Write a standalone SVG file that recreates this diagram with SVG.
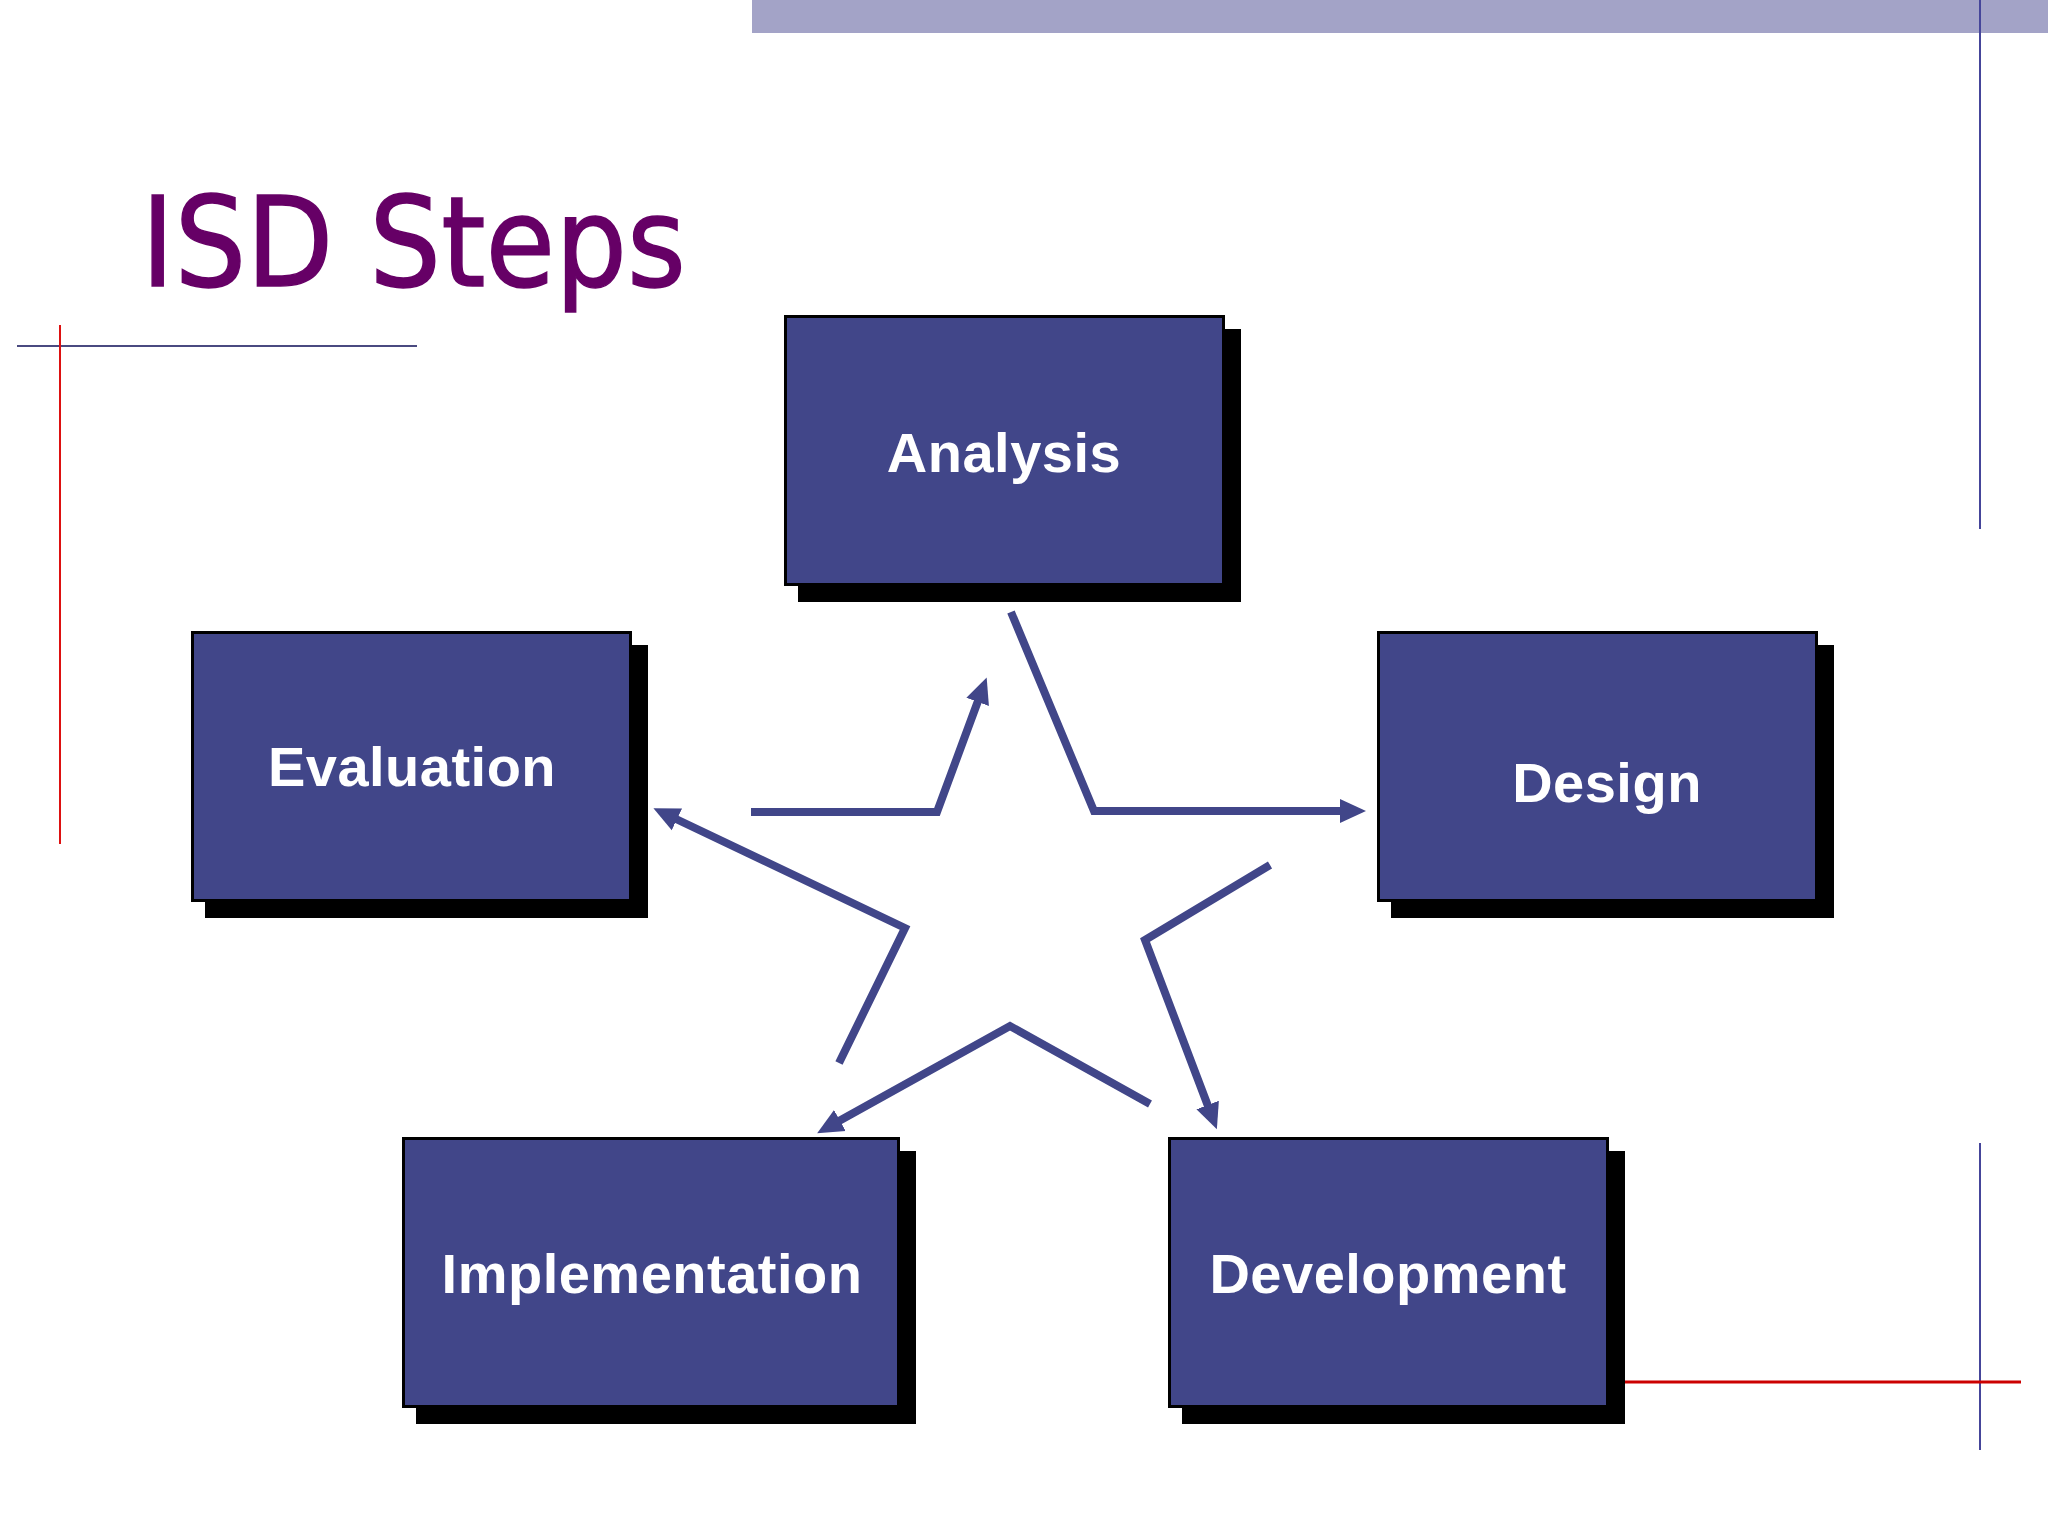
<svg xmlns="http://www.w3.org/2000/svg" width="2048" height="1536" viewBox="0 0 2048 1536">
<style>
.box{fill:#414689;stroke:#000;stroke-width:3}
.shadow{fill:#000}
.lbl{font-family:"Liberation Sans",Arial,sans-serif;font-weight:bold;font-size:56px;fill:#fff;text-anchor:middle;letter-spacing:0.5px}
.conn{fill:none;stroke:#414689;stroke-width:8;stroke-linejoin:miter}
</style>
<defs>
<marker id="ah" markerUnits="userSpaceOnUse" markerWidth="30" markerHeight="28" viewBox="0 -14 30 28" refX="1" refY="0" orient="auto">
<path d="M0,-12 L26,0 L0,12 z" fill="#414689"/>
</marker>
</defs>
<rect width="2048" height="1536" fill="#fff"/>
<g id="decor">
<rect x="752" y="0" width="1296" height="33" fill="#a3a3c7"/>
<line x1="1980" y1="0" x2="1980" y2="529" stroke="#45459a" stroke-width="2"/>
<line x1="1980" y1="1143" x2="1980" y2="1450" stroke="#45459a" stroke-width="2"/>
<line x1="1624" y1="1382" x2="2021" y2="1382" stroke="#cc0000" stroke-width="3"/>
<line x1="17" y1="346" x2="417" y2="346" stroke="#4a4a80" stroke-width="2"/>
<line x1="60" y1="325" x2="60" y2="844" stroke="#dd1111" stroke-width="2"/>
</g>
<text id="title" x="141" y="286" font-family="'DejaVu Sans','DejaVu Sans Condensed',sans-serif" font-size="125" fill="#660066" stroke="#660066" stroke-width="1.5" textLength="545" lengthAdjust="spacingAndGlyphs">ISD Steps</text>
<g id="connectors">
<path class="conn" d="M1011,612 L1094,811 L1341,811" marker-end="url(#ah)"/>
<path class="conn" d="M1270,865 L1145,940 L1208,1106" marker-end="url(#ah)"/>
<path class="conn" d="M1150,1104 L1010,1026 L839,1121" marker-end="url(#ah)"/>
<path class="conn" d="M839,1063 L905,928 L676,819" marker-end="url(#ah)"/>
<path class="conn" d="M751,812 L937,812 L978,701" marker-end="url(#ah)"/>
</g>
<g id="analysis">
<rect class="shadow" x="798" y="329" width="443" height="273"/>
<rect class="box" x="785.5" y="316.5" width="438" height="268"/>
<text class="lbl" x="1004" y="472">Analysis</text>
</g>
<g id="evaluation">
<rect class="shadow" x="205" y="645" width="443" height="273"/>
<rect class="box" x="192.5" y="632.5" width="438" height="268"/>
<text class="lbl" x="412" y="786">Evaluation</text>
</g>
<g id="design">
<rect class="shadow" x="1391" y="645" width="443" height="273"/>
<rect class="box" x="1378.5" y="632.5" width="438" height="268"/>
<text class="lbl" x="1607" y="802">Design</text>
</g>
<g id="implementation">
<rect class="shadow" x="416" y="1151" width="500" height="273"/>
<rect class="box" x="403.5" y="1138.5" width="495" height="268"/>
<text class="lbl" x="652" y="1293">Implementation</text>
</g>
<g id="development">
<rect class="shadow" x="1182" y="1151" width="443" height="273"/>
<rect class="box" x="1169.5" y="1138.5" width="438" height="268"/>
<text class="lbl" x="1388" y="1293">Development</text>
</g>
</svg>
